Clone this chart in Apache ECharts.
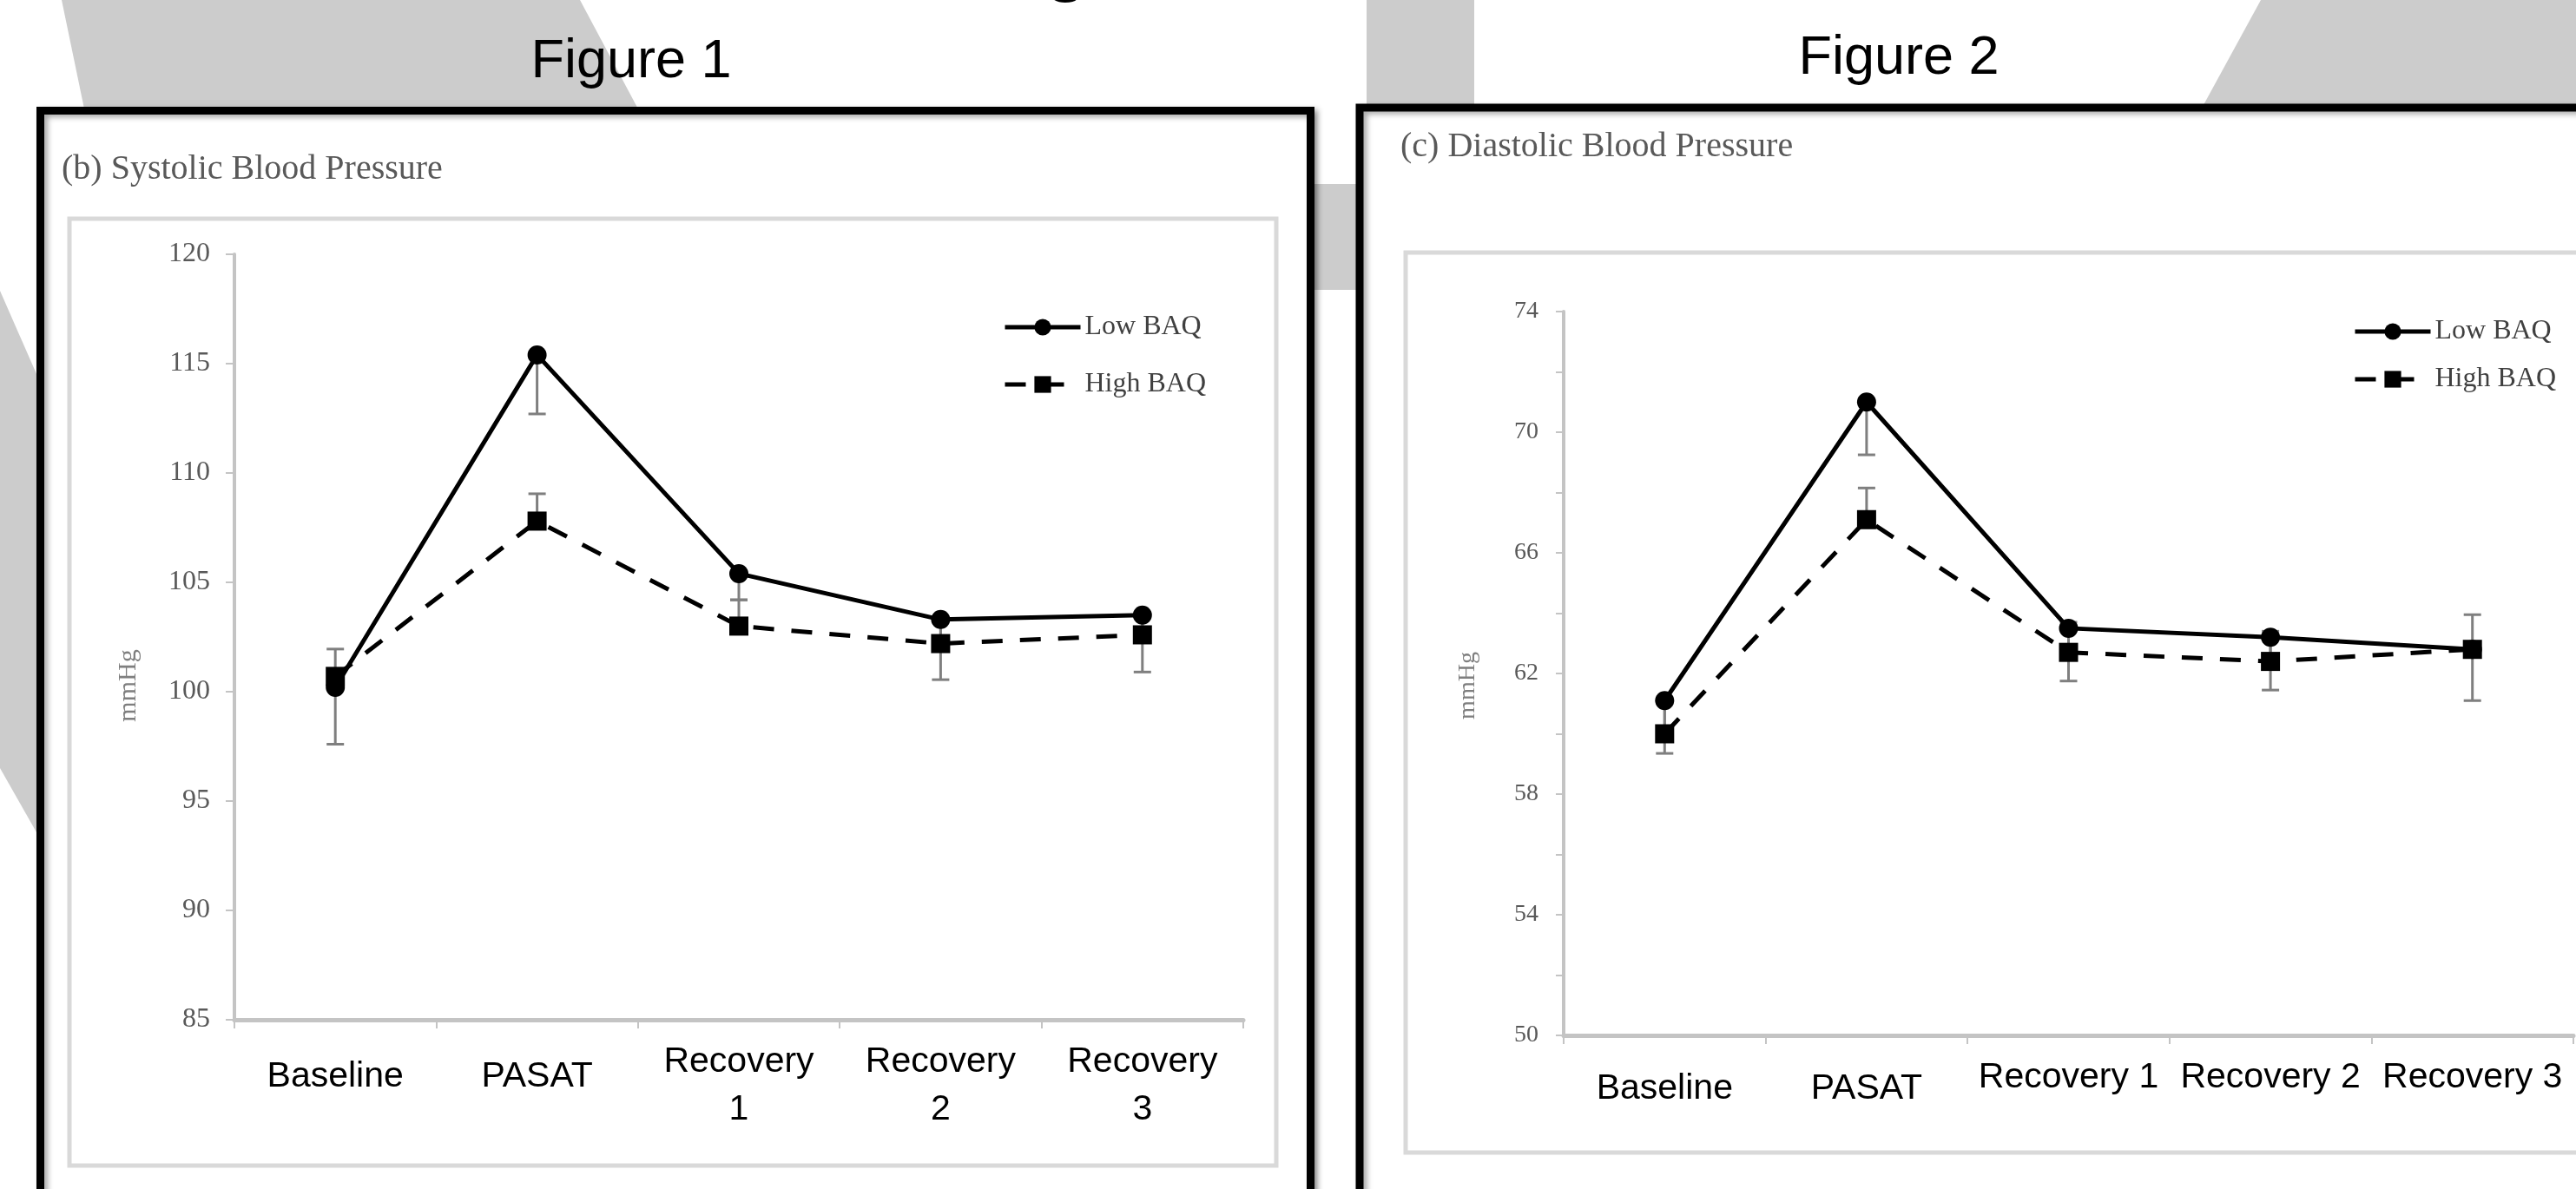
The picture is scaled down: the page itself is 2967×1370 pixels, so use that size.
<!DOCTYPE html>
<html><head><meta charset="utf-8">
<script src="https://cdn.jsdelivr.net/npm/echarts@6/dist/echarts.min.js"></script>
<style>html,body{margin:0;padding:0;background:#fff}#c{width:2967px;height:1370px}</style>
</head><body><div id="c"></div>
<script>
// ---- data ----
const categories = ['Baseline', 'PASAT', 'Recovery 1', 'Recovery 2', 'Recovery 3'];
const seriesNames = ['Low BAQ', 'High BAQ'];
// Figure 1: systolic
const sysLow = [100.2, 115.4, 105.4, 103.3, 103.5];
const sysHigh = [100.7, 107.8, 103.0, 102.2, 102.6];
const sysLowErrMinus = [2.6, 2.7, 1.2, 2.75, 2.6];
const sysHighErrPlus = [1.25, 1.25, 1.2, 1.1, 1.0];
const sysMin = 85, sysMax = 120, sysStep = 5;
// Figure 2: diastolic
const diaLow = [61.1, 71.0, 63.5, 63.2, 62.8];
const diaHigh = [60.0, 67.1, 62.7, 62.4, 62.8];
const diaLowErrMinus = [1.75, 1.75, 1.75, 1.75, 1.7];
const diaHighErrPlus = [1.0, 1.05, 1.0, 1.0, 1.15];
const diaMin = 50, diaMax = 74, diaStep = 2, diaLabelStep = 4;

const titles = ['Figure 1', 'Figure 2'];
const subtitles = ['(b) Systolic Blood Pressure', '(c) Diastolic Blood Pressure'];
const yName = 'mmHg';

// ---- chart ----
const chart = echarts.init(document.getElementById('c'));
const SERIF = 'Liberation Serif';
const SANS = 'Liberation Sans';
const axisGray = '#c4c4c4';
const errGray = '#7f7f7f';

function catData(padTop) {
  return categories.map(c => c.indexOf('Recovery') === 0 ? c : { value: c, textStyle: { padding: [padTop, 0, 0, 0] } });
}

function errSeries(xi, vals, errs, dir) {
  return {
    type: 'custom', xAxisIndex: xi, yAxisIndex: xi, z: 1, silent: true, animation: false,
    data: vals.map((v, i) => [i, v, v + dir * errs[i]]),
    encode: { x: 0, y: [1, 2] },
    renderItem(params, api) {
      const p0 = api.coord([api.value(0), api.value(1)]);
      const p1 = api.coord([api.value(0), api.value(2)]);
      const hw = 10;
      return { type: 'group', children: [
        { type: 'line', shape: { x1: p0[0], y1: p0[1], x2: p1[0], y2: p1[1] }, style: { stroke: errGray, lineWidth: 3 } },
        { type: 'line', shape: { x1: p1[0] - hw, y1: p1[1], x2: p1[0] + hw, y2: p1[1] }, style: { stroke: errGray, lineWidth: 3 } }
      ] };
    }
  };
}

function lineSeries(xi, name, vals, dashed) {
  return {
    name: name, type: 'line', xAxisIndex: xi, yAxisIndex: xi, data: vals, z: 3,
    symbol: dashed ? 'rect' : 'circle', symbolSize: 22, showSymbol: true,
    lineStyle: { color: '#000', width: 5, type: dashed ? [24, 20] : 'solid' },
    itemStyle: { color: '#000', borderWidth: 0 },
    emphasis: { disabled: true }, animation: false
  };
}

const bgGray = '#cccccc';
const graphics = [
  // background decoration
  { type: 'polygon', z: -20, shape: { points: [[71, 0], [668, 0], [740, 135], [99, 135]] }, style: { fill: bgGray } },
  { type: 'polygon', z: -20, shape: { points: [[0, 335], [46, 440], [46, 966], [0, 885]] }, style: { fill: bgGray } },
  { type: 'rect', z: -20, shape: { x: 1509, y: 212, width: 60, height: 122 }, style: { fill: bgGray } },
  { type: 'rect', z: -20, shape: { x: 1574, y: 0, width: 124, height: 126 }, style: { fill: bgGray } },
  { type: 'polygon', z: -20, shape: { points: [[2604, 0], [2967, 0], [2967, 130], [2533, 130]] }, style: { fill: bgGray } },
  // slide title descender
  { type: 'text', z: -15, x: 1228, y: -36, style: { text: 'g', font: 'bold 80px ' + SANS, fill: '#000', align: 'center', verticalAlign: 'middle' } },
  // framed boxes
  { type: 'rect', z: -10, shape: { x: 46.5, y: 127.5, width: 1463, height: 1400 },
    style: { fill: '#fff', stroke: '#000', lineWidth: 9, shadowBlur: 6, shadowOffsetX: 4, shadowOffsetY: 3, shadowColor: 'rgba(0,0,0,0.35)' } },
  { type: 'rect', z: -10, shape: { x: 1566, y: 124, width: 1600, height: 1400 },
    style: { fill: '#fff', stroke: '#000', lineWidth: 9, shadowBlur: 6, shadowOffsetX: 4, shadowOffsetY: 3, shadowColor: 'rgba(0,0,0,0.35)' } },
  { type: 'rect', z: -9, shape: { x: 80, y: 252, width: 1390, height: 1091 }, style: { fill: 'none', stroke: '#d9d9d9', lineWidth: 5 } },
  { type: 'rect', z: -9, shape: { x: 1619, y: 291, width: 1500, height: 1037 }, style: { fill: 'none', stroke: '#d9d9d9', lineWidth: 5 } },
  // texts
  { type: 'text', z: 10, x: 727, y: 72, style: { text: titles[0], font: '63px ' + SANS, fill: '#000', align: 'center', verticalAlign: 'middle' } },
  { type: 'text', z: 10, x: 2187, y: 68, style: { text: titles[1], font: '63px ' + SANS, fill: '#000', align: 'center', verticalAlign: 'middle' } },
  { type: 'text', z: 10, x: 71, y: 195, style: { text: subtitles[0], font: '40px ' + SERIF, fill: '#595959', align: 'left', verticalAlign: 'middle' } },
  { type: 'text', z: 10, x: 1613, y: 169, style: { text: subtitles[1], font: '40px ' + SERIF, fill: '#595959', align: 'left', verticalAlign: 'middle' } },
  { type: 'text', z: 10, x: 148, y: 790, rotation: Math.PI / 2, style: { text: yName, font: '30px ' + SERIF, fill: '#7f7f7f', align: 'center', verticalAlign: 'middle' } },
  { type: 'text', z: 10, x: 1691, y: 790, rotation: Math.PI / 2, style: { text: yName, font: '28px ' + SERIF, fill: '#7f7f7f', align: 'center', verticalAlign: 'middle' } }
];

const legendCommon = {
  orient: 'vertical', itemWidth: 87, itemHeight: 24, data: seriesNames, selectedMode: false,
  lineStyle: { width: 5 },
  textStyle: { fontFamily: SERIF, fontSize: 32, color: '#404040' }
};

const option = {
  animation: false,
  backgroundColor: '#fff',
  graphic: { elements: graphics },
  grid: [
    { left: 270, top: 293, width: 1162, height: 882, containLabel: false, outerBoundsMode: 'none' },
    { left: 1801, top: 359, width: 1163, height: 834, containLabel: false, outerBoundsMode: 'none' }
  ],
  legend: [
    Object.assign({}, legendCommon, { left: 1150, top: 356, itemGap: 34 }),
    Object.assign({}, legendCommon, { left: 2705, top: 361, itemGap: 23 })
  ],
  xAxis: [
    { type: 'category', gridIndex: 0, data: catData(17), boundaryGap: true,
      axisLine: { lineStyle: { color: axisGray, width: 5 } },
      axisTick: { show: true, length: 10, lineStyle: { color: axisGray, width: 2 } },
      axisLabel: { interval: 0, margin: 21, color: '#000', fontFamily: SANS, fontSize: 41, lineHeight: 55, verticalAlign: 'top',
        formatter: v => v.replace(' ', '\n') },
      splitLine: { show: false } },
    { type: 'category', gridIndex: 1, data: catData(13), boundaryGap: true,
      axisLine: { lineStyle: { color: axisGray, width: 5 } },
      axisTick: { show: true, length: 10, lineStyle: { color: axisGray, width: 2 } },
      axisLabel: { interval: 0, margin: 21, color: '#000', fontFamily: SANS, fontSize: 41, lineHeight: 55, verticalAlign: 'top' },
      splitLine: { show: false } }
  ],
  yAxis: [
    { type: 'value', gridIndex: 0, min: sysMin, max: sysMax, interval: sysStep,
      axisLine: { show: true, lineStyle: { color: axisGray, width: 4 } },
      axisTick: { show: true, length: 10, lineStyle: { color: axisGray, width: 2 } },
      axisLabel: { margin: 28, color: '#595959', fontFamily: SERIF, fontSize: 32 },
      splitLine: { show: false } },
    { type: 'value', gridIndex: 1, min: diaMin, max: diaMax, interval: diaStep,
      axisLine: { show: true, lineStyle: { color: axisGray, width: 4 } },
      axisTick: { show: true, length: 9, lineStyle: { color: axisGray, width: 2 } },
      axisLabel: { margin: 29, color: '#595959', fontFamily: SERIF, fontSize: 28,
        formatter: v => ((v - diaMin) % diaLabelStep === 0 ? String(v) : '') },
      splitLine: { show: false } }
  ],
  series: [
    errSeries(0, sysLow, sysLowErrMinus, -1),
    errSeries(0, sysHigh, sysHighErrPlus, 1),
    lineSeries(0, seriesNames[0], sysLow, false),
    lineSeries(0, seriesNames[1], sysHigh, true),
    errSeries(1, diaLow, diaLowErrMinus, -1),
    errSeries(1, diaHigh, diaHighErrPlus, 1),
    lineSeries(1, seriesNames[0], diaLow, false),
    lineSeries(1, seriesNames[1], diaHigh, true)
  ]
};
chart.setOption(option);
</script>
</body></html>
